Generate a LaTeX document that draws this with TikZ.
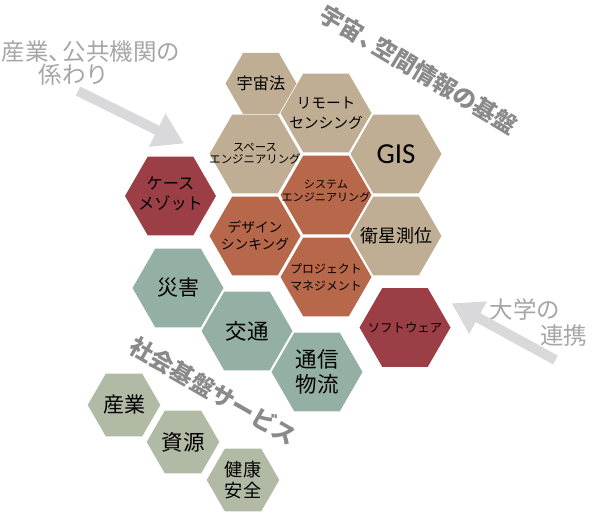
\documentclass[tikz,border=0pt]{standalone}
\usepackage{fontspec}
\usetikzlibrary{shapes.geometric,arrows.meta}
\newfontfamily\jp{Noto Sans CJK JP}
\newfontfamily\latinfont{Carlito}
\newcommand{\cellfont}[2]{\jp\fontsize{#1}{#2}\selectfont}
\definecolor{hexTan}{RGB}{191,174,147}
\definecolor{hexRust}{RGB}{183,104,74}
\definecolor{hexWine}{RGB}{156,62,70}
\definecolor{hexSage}{RGB}{148,176,165}
\definecolor{hexOlive}{RGB}{176,186,164}
\definecolor{arrowGray}{RGB}{217,216,218}
\definecolor{noteGray}{RGB}{166,166,166}
\definecolor{headGray}{RGB}{138,138,138}
\begin{document}
\begin{tikzpicture}[x=1pt,y=-1pt,
  hexcell/.style={regular polygon, regular polygon sides=6, minimum size=91pt,
                  inner sep=0pt, outer sep=0pt},
  hexsmall/.style={hexcell, minimum size=71pt},
  hexfield/.style={hexcell, minimum size=72.6pt, fill=hexOlive},
  cell/.style={align=center, inner sep=0pt, text=black},
  pointer/.style={draw=arrowGray, line width=10pt,
                  -{Triangle[length=30pt,width=35pt]}},
  note/.style={text=noteGray, inner sep=0pt, font=\cellfont{23.5}{28}},
  heading/.style={text=headGray, inner sep=0pt,
                  font=\cellfont{23.5}{28}\bfseries}
]
\useasboundingbox (0,0) rectangle (610,513);

% space and geospatial cells
\node[hexsmall, fill=hexTan] (law) at (261,83.5) {};
\node[cell, font=\cellfont{16.2}{20}] (law-t) at (law) {宇宙法};
\node[hexcell, fill=hexTan] (rs) at (326,113) {};
\node[cell, font=\cellfont{14.7}{20}] (rs-t) at (rs) {リモート\\センシング};
\node[hexcell, fill=hexTan] (se) at (255,154) {};
\node[cell, font=\cellfont{11.4}{12.5}] (se-t) at (se) {スペース\\エンジニアリング};
\node[hexcell, fill=hexTan] (gis) at (396,154) {};
\node[cell, font=\latinfont\fontsize{29}{32}\selectfont] (gis-t) at (gis) {GIS};
\node[hexcell, fill=hexTan] (gnss) at (396,236) {};
\node[cell, font=\cellfont{18}{20}] (gnss-t) at (gnss) {衛星測位};

% engineering methods
\node[hexcell, fill=hexRust] (sys) at (326,195) {};
\node[cell, font=\cellfont{11.1}{13.3}, yshift=4pt] (sys-t) at (sys) {システム\\エンジニアリング};
\node[hexcell, fill=hexRust] (dt) at (255,236) {};
\node[cell, font=\cellfont{13.7}{17}] (dt-t) at (dt) {デザイン\\シンキング};
\node[hexcell, fill=hexRust] (pm) at (326,277) {};
\node[cell, font=\cellfont{11.9}{16.7}] (pm-t) at (pm) {プロジェクト\\マネジメント};

% industry and university cells
\node[hexcell, fill=hexWine] (case) at (170.5,196) {};
\node[cell, font=\cellfont{16.2}{20}, yshift=2pt] (case-t) at (case) {ケース\\メゾット};
\node[hexcell, fill=hexWine] (sw) at (405,327.5) {};
\node[cell, font=\cellfont{12.4}{15}] (sw-t) at (sw) {ソフトウェア};

% social infrastructure services
\node[hexcell, fill=hexSage] (dis) at (178,288) {};
\node[cell, font=\cellfont{21}{25}] (dis-t) at (dis) {災害};
\node[hexcell, fill=hexSage] (tr) at (247,331) {};
\node[cell, font=\cellfont{21.5}{25}] (tr-t) at (tr) {交通};
\node[hexcell, fill=hexSage] (com) at (317,372) {};
\node[cell, font=\cellfont{21.5}{25}] (com-t) at (com) {通信\\物流};

% application fields
\node[hexfield] (ind) at (124,405) {};
\node[cell, font=\cellfont{21}{25}] (ind-t) at (ind) {産業};
\node[hexfield] (res) at (183,442) {};
\node[cell, font=\cellfont{21.5}{25}] (res-t) at (res) {資源};
\node[hexfield] (hs) at (243,480) {};
\node[cell, font=\cellfont{18.2}{21.7}] (hs-t) at (hs) {健康\\安全};

% group headings
\node[heading, rotate=-31] (h-space) at (419,70) {宇宙、\kern-0.4em 空間情報の基盤};
\node[heading, rotate=-30] (h-social) at (213,391) {社会基盤サービス};

% outside links
\node[note] (n-ind1) at (91,51.7) {産業、\kern-0.4em 公共機関の};
\node[note] (n-ind2) at (74,75) {係わり};
\node[note] (n-uni1) at (525,310) {大学の};
\node[note] (n-uni2) at (563.5,336) {連携};

\coordinate (p1s) at (78,91);
\coordinate (p1e) at (184,143.5);
\coordinate (p2s) at (555.5,360);
\coordinate (p2e) at (451.7,303.3);
\draw[pointer] (p1s) -- (p1e);
\draw[pointer] (p2s) -- (p2e);
\end{tikzpicture}
\end{document}
